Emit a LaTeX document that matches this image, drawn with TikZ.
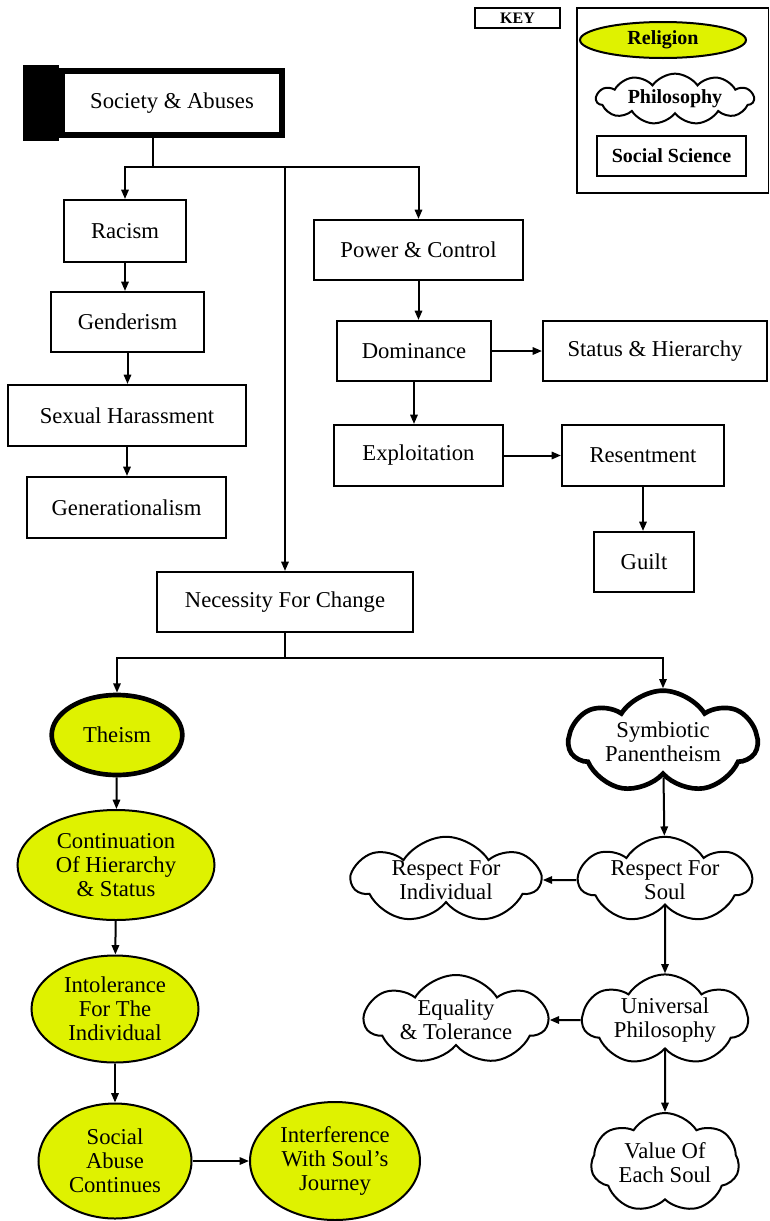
\documentclass[tikz,border=0pt]{standalone}
\usepackage{fontspec}
\setmainfont{Liberation Serif}
\usetikzlibrary{arrows.meta, shapes.geometric, shapes.symbols}
\definecolor{relcol}{RGB}{223, 242, 0}
\tikzset{
  sci/.style   = {draw, line width=1.5pt, fill=white, align=center,
                  inner sep=2pt},
  rel/.style   = {ellipse, draw, line width=1.5pt, fill=relcol,
                  align=center, inner sep=0pt},
  phil/.style  = {cloud, cloud puffs=7, cloud puff arc=115,
                  cloud ignores aspect, draw, line width=1.5pt, fill=white,
                  align=center, inner sep=0pt},
  heavy/.style = {line width=3.5pt},
  keytxt/.style = {font=\fontsize{15}{16}\selectfont\bfseries},
  keyframe/.style = {draw, line width=1pt},
  flow/.style  = {-{Triangle[length=7pt, width=5.5pt]}, line width=1.5pt},
  link/.style  = {line width=1.5pt},
}

\begin{document}
\begin{tikzpicture}[x=0.75pt, y=-0.75pt, font=\fontsize{17}{18}\selectfont]
  \useasboundingbox (0,0) rectangle (769,1221);

  %% ---------------- the key ----------------
  \node[draw, line width=1pt, minimum width=63.75pt, minimum height=15pt,
        inner sep=0pt, font=\fontsize{12}{12}\selectfont\bfseries]
        (key) at (517.5,18) {KEY};
  \draw[keyframe] (577,8) rectangle (768.5,193);
  \node[rel, keytxt, minimum width=124.5pt, minimum height=27pt]
        (kreligion) at (663,40) {Religion};
  \node[phil, keytxt, cloud puffs=11, cloud puff arc=110,
        minimum width=118pt, minimum height=38pt]
        (kphilo) at (675,99) {Philosophy};
  \node[sci, keytxt, minimum width=111.75pt, minimum height=30pt]
        (ksocsci) at (671.5,156) {Social Science};

  %% ---------------- society and abuses ----------------
  \node[sci, line width=4.5pt, minimum width=165pt, minimum height=48pt]
        (soc) at (172,103) {Society \& Abuses};
  \fill ([shift={(-36,-3)}]soc.north west) rectangle
        ([shift={(0,3)}]soc.south west);

  \node[sci, minimum width=91.5pt, minimum height=46.5pt]
        (racism) at (125,231) {Racism};
  \node[sci, minimum width=114.75pt, minimum height=45pt]
        (gender) at (127.5,322) {Genderism};
  \node[sci, minimum width=178.5pt, minimum height=45.75pt]
        (sexh) at (127,415.5) {Sexual Harassment};
  \node[sci, minimum width=149.25pt, minimum height=45.75pt]
        (gener) at (126.5,507.5) {Generationalism};

  \node[sci, minimum width=156.75pt, minimum height=45pt]
        (power) at (418.5,250) {Power \& Control};
  \node[sci, minimum width=115.5pt, minimum height=45pt]
        (dom) at (414,351) {Dominance};
  \node[sci, minimum width=168pt, minimum height=45pt]
        (status) at (655,351) {Status \& Hierarchy};
  \node[sci, minimum width=126.75pt, minimum height=45.75pt]
        (expl) at (418.5,455.5) {Exploitation};
  \node[sci, minimum width=121.5pt, minimum height=45.75pt]
        (resent) at (643,455.5) {Resentment};
  \node[sci, minimum width=75pt, minimum height=45pt]
        (guilt) at (644,562) {Guilt};

  \node[sci, minimum width=192pt, minimum height=45pt]
        (nec) at (285,602) {Necessity For Change};

  %% ---------------- religion side ----------------
  \node[rel, heavy, minimum width=98pt, minimum height=60pt]
        (theism) at (117,735) {Theism};
  \node[rel, minimum width=147.75pt, minimum height=82.5pt]
        (cont) at (116,865) {Continuation\\Of Hierarchy\\\& Status};
  \node[rel, minimum width=125.25pt, minimum height=80.25pt]
        (intol) at (115,1009) {Intolerance\\For The\\Individual};
  \node[rel, minimum width=114.75pt, minimum height=86.25pt]
        (abuse) at (115,1161) {Social\\Abuse\\Continues};
  \node[rel, minimum width=127.5pt, minimum height=88.5pt]
        (interf) at (335,1161) {Interference\\With Soul's\\Journey};

  %% ---------------- philosophy side ----------------
  \node[phil, heavy, minimum width=141pt, minimum height=77pt]
        (symb) at (663,742) {Symbiotic\\Panentheism};
  \node[phil, minimum width=129pt, minimum height=57.75pt]
        (rsoul) at (665,880) {Respect For\\Soul};
  \node[phil, minimum width=140.25pt, minimum height=58.5pt]
        (rindiv) at (446,880) {Respect For\\Individual};
  \node[phil, minimum width=123.75pt, minimum height=68.25pt]
        (univ) at (665,1020) {Universal\\Philosophy};
  \node[phil, minimum width=136.5pt, minimum height=67.5pt]
        (equal) at (456,1020) {Equality\\\& Tolerance};
  \node[phil, minimum width=111pt, minimum height=75pt]
        (value) at (665,1163) {Value Of\\Each Soul};

  %% ---------------- edges ----------------
  \coordinate (fork1) at (153,167);
  \coordinate (fork2) at (285,658);

  \draw[link] (soc.south -| fork1) -- (fork1);
  \draw[flow] (fork1) -| (racism.north);
  \draw[flow] (fork1) -| (power.north);
  \draw[flow] (fork1 -| nec) -- (nec.north);

  \draw[flow] (racism) -- (racism |- gender.north);
  \draw[flow] (gender) -- (gender |- sexh.north);
  \draw[flow] (sexh) -- (sexh |- gener.north);

  \draw[flow] (power) -- (power |- dom.north);
  \draw[flow] (dom) -- (status);
  \draw[flow] (dom) -- (dom |- expl.north);
  \draw[flow] (expl) -- (resent);
  \draw[flow] (resent) -- (resent |- guilt.north);

  \draw[link] (nec) -- (fork2);
  \draw[flow] (fork2) -| (theism);
  \draw[flow] (fork2) -| (symb);

  \draw[flow] (theism) -- (cont);
  \draw[flow] (cont) -- (intol);
  \draw[flow] (intol) -- (abuse);
  \draw[flow] (abuse) -- (interf);

  \draw[flow] (symb) -- (rsoul);
  \draw[flow] (rsoul) -- (rindiv);
  \draw[flow] (rsoul) -- (univ);
  \draw[flow] (univ) -- (equal);
  \draw[flow] (univ) -- (value);

\end{tikzpicture}
\end{document}
